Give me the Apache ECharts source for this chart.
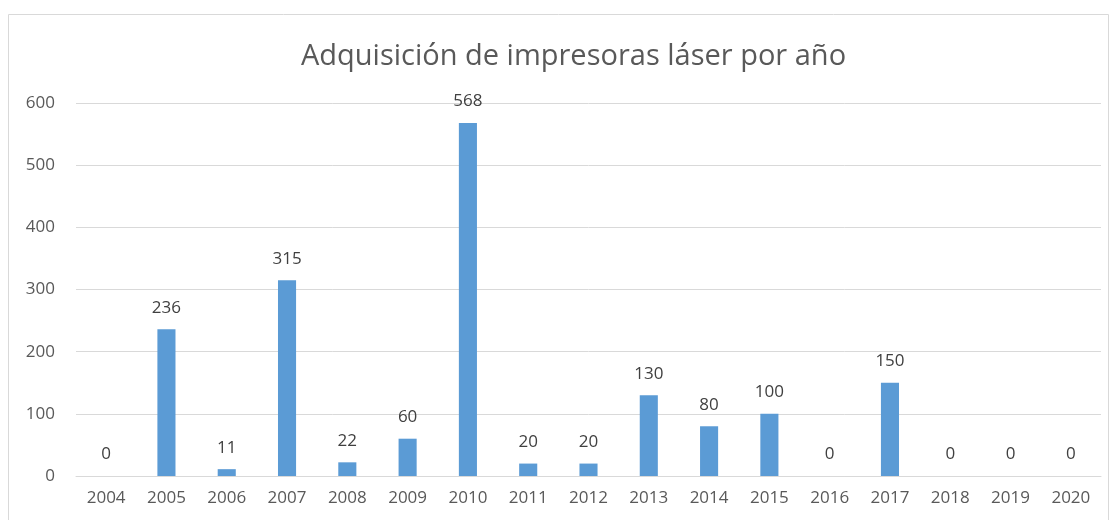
<!DOCTYPE html>
<html>
<head>
<meta charset="utf-8">
<script src="https://cdn.jsdelivr.net/npm/echarts@6/dist/echarts.min.js"></script>
<style>html,body{margin:0;padding:0;background:#fff}#c{width:1114px;height:520px}</style>
</head>
<body>
<div id="c"></div>
<script>
const years = ['2004','2005','2006','2007','2008','2009','2010','2011','2012','2013','2014','2015','2016','2017','2018','2019','2020'];
const values = [0,236,11,315,22,60,568,20,20,130,80,100,0,150,0,0,0];
const yTicks = [0,100,200,300,400,500,600];
const title = 'Adquisición de impresoras láser por año';

const chart = echarts.init(document.getElementById('c'));
const font = '"Open Sans", sans-serif';
chart.setOption({
  animation: false,
  graphic: [{
    type: 'rect', shape: {x: 8.5, y: 14.5, width: 1100, height: 520},
    style: {fill: 'none', stroke: '#D9D9D9', lineWidth: 1}, silent: true
  }],
  title: {
    text: title, left: 296, top: 37,
    textStyle: {fontFamily: font, fontSize: 29, fontWeight: 'normal', color: '#595959'}
  },
  grid: {left: 76, right: 13, top: 103, bottom: 44},
  xAxis: {
    type: 'category', data: years,
    axisLine: {lineStyle: {color: '#D9D9D9'}},
    axisTick: {show: false},
    axisLabel: {fontFamily: font, fontSize: 17, color: '#595959', margin: 14}
  },
  yAxis: {
    type: 'value', min: yTicks[0], max: yTicks[yTicks.length-1], interval: 100,
    axisLine: {show: false}, axisTick: {show: false},
    splitLine: {lineStyle: {color: '#D9D9D9'}},
    axisLabel: {fontFamily: font, fontSize: 17, color: '#595959', margin: 21}
  },
  series: [{
    type: 'bar', data: values, barWidth: '30%',
    itemStyle: {color: '#5B9BD5'},
    label: {show: true, position: 'top', distance: 13, fontFamily: font, fontSize: 17, color: '#404040'}
  }]
});
</script>
</body>
</html>
